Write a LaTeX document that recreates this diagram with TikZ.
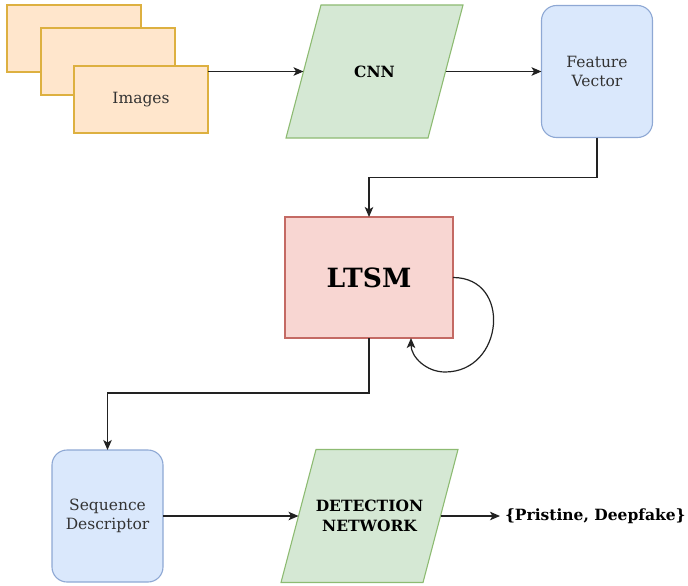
\documentclass[tikz,border=0pt]{standalone}
\usepackage{fontspec}
\setmainfont{DejaVu Serif}
\usetikzlibrary{arrows.meta,backgrounds}
\definecolor{orfill}{HTML}{FFE6CC}
\definecolor{ordraw}{HTML}{DDB040}
\definecolor{grfill}{HTML}{D5E8D4}
\definecolor{grdraw}{HTML}{8DBB72}
\definecolor{blfill}{HTML}{DAE8FC}
\definecolor{bldraw}{HTML}{8EA8D4}
\definecolor{rdfill}{HTML}{F8D6D2}
\definecolor{rddraw}{HTML}{C46A64}
\definecolor{txt}{HTML}{333333}
\definecolor{ln}{HTML}{222222}
\begin{document}
\begin{tikzpicture}[x=1pt,y=-1pt,
  imgbox/.style={draw=ordraw,fill=orfill,line width=1.3pt,minimum width=134pt,minimum height=67pt,inner sep=0pt,outer sep=0pt,text=txt,font=\fontsize{15.5}{18}\selectfont},
  paratext/.style={minimum width=142pt,minimum height=133pt,inner sep=0pt,outer sep=0pt,align=center,text=black,font=\bfseries\fontsize{15.5}{20}\selectfont},
  parashape/.style={draw=grdraw,fill=grfill,line width=1.1pt,line join=miter},
  rbox/.style={draw=bldraw,fill=blfill,line width=1.1pt,rounded corners=15pt,minimum width=111pt,minimum height=132pt,inner sep=0pt,outer sep=0pt,align=center,text=txt,font=\fontsize{15.5}{18.5}\selectfont},
  lbox/.style={draw=rddraw,fill=rdfill,line width=1.1pt,minimum width=168pt,minimum height=121pt,inner sep=0pt,outer sep=0pt,text=black,font=\bfseries\fontsize{26.5}{30}\selectfont},
  conn/.style={draw=ln,line width=1.2pt,-{Stealth[length=10pt,width=8.5pt,inset=2.5pt]}}]
\useasboundingbox (0,0) rectangle (688,586);
\node[imgbox] (img1) at (74,38.5) {};
\node[imgbox] (img2) at (108,61.5) {};
\node[imgbox] (img3) at (141,99.5) {Images};
\node[paratext] (cnn) at (374.5,71.5) {CNN};
\node[rbox] (fv) at (597,71.5) {Feature\\Vector};
\node[lbox] (ltsm) at (369,277.5) {LTSM};
\node[rbox] (sd) at (107.5,516) {Sequence\\Descriptor};
\node[paratext] (det) at (369.5,516) {DETECTION\\NETWORK};
\node[anchor=west,inner ysep=0pt,inner xsep=5pt,outer sep=0pt,font=\bfseries\fontsize{15.5}{18}\selectfont,text=black] (out) at (500,516) {\{Pristine, Deepfake\}};
\begin{scope}[on background layer]
\foreach \p in {cnn,det}{
  \draw[parashape] ([xshift=17.5pt]\p.north west) -- ([xshift=17.5pt]\p.north east)
    -- ([xshift=-17.5pt]\p.south east) -- ([xshift=-17.5pt]\p.south west) -- cycle;
}
\end{scope}
\coordinate (loopb) at (445,372);
\draw[conn] (img3.north east |- cnn.west) -- (cnn.west);
\draw[conn] (cnn.east) -- (fv.west);
\draw[conn] (fv.south) -- ++(0,40) -| (ltsm.north);
\draw[conn] (ltsm.east) to[out=0,in=0,looseness=1.6] (loopb) to[out=180,in=-90] ([xshift=42pt]ltsm.south);
\draw[conn] (ltsm.south) -- ++(0,55) -| (sd.north);
\draw[conn] (sd.east) -- (det.west);
\draw[conn] (det.east) -- (out.west);
\end{tikzpicture}
\end{document}
